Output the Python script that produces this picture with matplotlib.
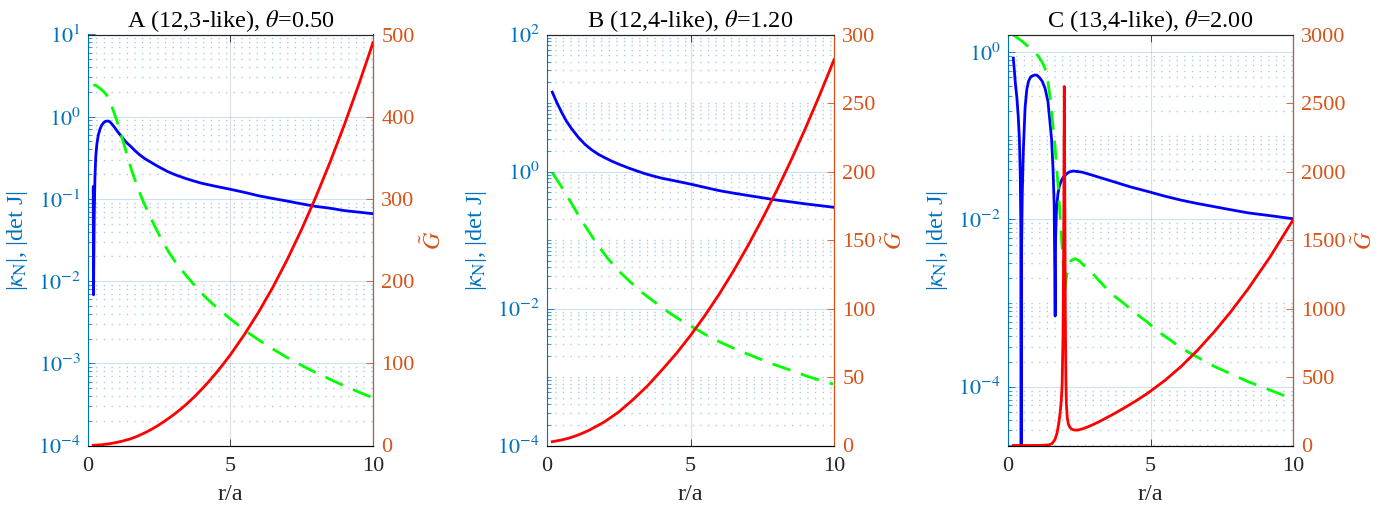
import matplotlib
matplotlib.use("Agg")
import matplotlib.pyplot as plt
from matplotlib.ticker import FixedLocator, NullFormatter, FixedFormatter

plt.rcParams['font.family'] = ['Liberation Serif', 'DejaVu Serif']
plt.rcParams['mathtext.fontset'] = 'stix'

# ---------------- data ----------------
titles = [r'A (12,3-like), $\theta$=0.50', r'B (12,4-like), $\theta$=1.20', r'C (13,4-like), $\theta$=2.00']

# Panel A
A_r_kappa = [0.20, 0.21, 0.235, 0.26, 0.29, 0.33, 0.38, 0.44, 0.50, 0.57, 0.64, 0.71, 0.78, 0.86, 0.95, 1.08, 1.20,
             1.35, 1.50, 1.65, 1.80, 2.00, 2.25, 2.50, 2.83, 3.10, 3.42, 3.70, 4.00, 4.50, 5.00, 5.50, 6.00, 6.50,
             7.00, 7.50, 8.00, 8.50, 9.00, 9.50, 10.0]
A_kappa = [0.14, 0.0068, 0.06, 0.18, 0.33, 0.47, 0.60, 0.71, 0.79, 0.85, 0.88, 0.887, 0.87, 0.81, 0.74, 0.64, 0.57,
           0.49, 0.44, 0.39, 0.35, 0.31, 0.275, 0.245, 0.213, 0.195, 0.178, 0.166, 0.155, 0.142, 0.131, 0.120, 0.109,
           0.101, 0.094, 0.087, 0.081, 0.077, 0.072, 0.069, 0.066]
A_r_detJ = [0.20, 0.30, 0.44, 0.55, 0.67, 0.78, 0.90, 1.05, 1.20, 1.38, 1.55, 1.75, 1.95, 2.20, 2.42, 2.60, 2.83,
            3.10, 3.42, 3.70, 4.00, 4.30, 4.58, 5.00, 5.58, 6.00, 6.51, 7.00, 7.56, 8.00, 8.49, 9.00, 9.50, 10.0]
A_detJ = [2.43, 2.40, 2.21, 2.05, 1.84, 1.55, 1.20, 0.85, 0.57, 0.35, 0.22, 0.14, 0.093, 0.060, 0.042, 0.0316,
          0.023, 0.0166, 0.0121, 0.0093, 0.0071, 0.0056, 0.0046, 0.00348, 0.00242, 0.00192, 0.00148, 0.00117,
          0.00092, 0.00077, 0.00064, 0.00053, 0.000447, 0.00038]
A_r_G = [0.20, 0.50, 0.75, 1.00, 1.25, 1.50, 1.75, 2.00, 2.25, 2.50, 2.75, 3.00, 3.25, 3.50, 3.75, 4.00, 4.25, 4.50,
         4.75, 5.00, 5.50, 6.00, 6.50, 7.00, 7.50, 8.00, 8.50, 9.00, 9.50, 10.0]
A_G = [0.3, 0.9, 2.0, 3.6, 5.6, 8.0, 11.3, 15.3, 19.8, 25, 30.8, 37, 43.8, 51.3, 59.5, 68.4, 77.9, 88, 98.8, 110.2,
       135.2, 162.7, 193, 226.5, 263, 302.5, 345, 390.5, 439, 490]

# Panel B
B_r_kappa = [0.185, 0.35, 0.51, 0.68, 0.86, 1.08, 1.32, 1.55, 1.79, 2.00, 2.25, 2.50, 2.83, 3.10, 3.41, 3.70, 3.99,
             4.50, 5.00, 5.50, 6.00, 6.50, 7.00, 7.50, 8.00, 8.50, 9.00, 9.50, 10.0]
B_kappa = [14.4, 10.0, 7.3, 5.4, 4.2, 3.2, 2.5, 2.08, 1.78, 1.60, 1.42, 1.28, 1.13, 1.03, 0.93, 0.86, 0.80, 0.724,
           0.655, 0.586, 0.526, 0.483, 0.447, 0.414, 0.383, 0.360, 0.337, 0.318, 0.300]
B_r_detJ = [0.185, 0.40, 0.57, 0.85, 1.15, 1.45, 1.73, 2.10, 2.48, 2.90, 3.29, 3.75, 4.22, 4.60, 5.00, 5.68, 6.20,
            6.72, 7.30, 7.88, 8.50, 9.05, 9.50, 9.97]
B_detJ = [0.955, 0.70, 0.54, 0.345, 0.21, 0.134, 0.089, 0.055, 0.036, 0.0245, 0.0174, 0.0124, 0.0089, 0.0070,
          0.0056, 0.0038, 0.0030, 0.0024, 0.00192, 0.00154, 0.00125, 0.00103, 0.00090, 0.00079]
B_r_G = [0.185, 0.50, 0.75, 1.00, 1.25, 1.50, 2.00, 2.50, 3.00, 3.50, 4.00, 4.50, 5.00, 5.50, 6.00, 6.50, 7.00, 7.50,
         8.00, 8.50, 9.00, 9.50, 10.0]
B_G = [2.8, 4.0, 5.3, 7.0, 9.1, 11.5, 17.2, 24.5, 33.5, 43.5, 55, 67, 80.3, 94.8, 110.5, 127.5, 145.8, 165.3, 186,
       208, 231.3, 255.8, 281.5]

# Panel C
C_r_kappa = [0.186, 0.22, 0.26, 0.31, 0.36, 0.40, 0.43, 0.45, 0.46, 0.475, 0.50, 0.54, 0.60, 0.66, 0.72, 0.80, 0.88,
             0.95, 1.02, 1.10, 1.20, 1.30, 1.40, 1.47, 1.53, 1.58, 1.62, 1.655, 1.67, 1.70, 1.75, 1.80, 1.87, 1.94,
             2.05, 2.15, 2.29, 2.60, 2.94, 3.35, 3.75, 4.30, 4.91, 5.50, 6.08, 6.65, 7.25, 7.80, 8.42, 9.20, 10.0]
C_kappa = [0.85, 0.62, 0.42, 0.29, 0.17, 0.09, 0.035, 0.008, 1e-7, 0.004, 0.02, 0.07, 0.22, 0.36, 0.45, 0.51, 0.525,
           0.535, 0.53, 0.50, 0.45, 0.37, 0.26, 0.15, 0.09, 0.04, 0.015, 0.0007, 0.006, 0.013, 0.020, 0.025, 0.029,
           0.032, 0.035, 0.037, 0.038, 0.0368, 0.0340, 0.0308, 0.0280, 0.0245, 0.0216, 0.019, 0.017, 0.0155, 0.0142,
           0.0131, 0.012, 0.0111, 0.0102]
C_r_detJ = [0.186, 0.50, 0.77, 1.06, 1.20, 1.30, 1.40, 1.47, 1.53, 1.59, 1.65, 1.71, 1.77, 1.82, 1.86, 1.90, 1.94,
            1.97, 1.99, 2.01, 2.04, 2.10, 2.20, 2.35, 2.50, 2.70, 2.95, 3.17, 3.45, 3.75, 4.05, 4.34, 4.60, 4.87,
            5.26, 5.70, 6.08, 6.60, 7.25, 7.80, 8.42, 9.20, 10.0]
C_detJ = [1.61, 1.35, 1.12, 0.90, 0.76, 0.64, 0.45, 0.30, 0.19, 0.12, 0.075, 0.04, 0.022, 0.012, 0.0075, 0.0045,
          0.0028, 0.0018, 0.0014, 0.0015, 0.0019, 0.0026, 0.0032, 0.0034, 0.0032, 0.00274, 0.0023, 0.0019, 0.0015,
          0.0012, 0.0010, 0.00083, 0.0007, 0.0006, 0.00046, 0.00036, 0.00029, 0.00023, 0.000174, 0.000143,
          0.000115, 9.1e-5, 7.1e-5]
C_r_G = [0.186, 1.00, 1.30, 1.45, 1.55, 1.65, 1.72, 1.78, 1.83, 1.87, 1.90, 1.93, 1.955, 1.975, 1.99, 2.01, 2.03,
         2.05, 2.08, 2.12, 2.18, 2.25, 2.33, 2.41, 2.50, 2.65, 2.80, 3.00, 3.20, 3.40, 3.75, 4.10, 4.50, 4.91, 5.50,
         6.08, 6.65, 7.25, 7.80, 8.42, 9.20, 10.0]
C_G = [0, 0.3, 2, 5, 15, 45, 90, 160, 240, 330, 450, 800, 1500, 2620, 2000, 1000, 500, 300, 200, 155, 130, 118, 113,
       112, 115, 124, 136, 154, 174, 196, 235, 277, 327, 383, 474, 578, 695, 833, 972, 1142, 1378, 1646]

panels = [
    dict(rk=A_r_kappa, k=A_kappa, rd=A_r_detJ, d=A_detJ, rg=A_r_G, g=A_G,
         ylim=(1e-4, 1e1), majors=[-4, -3, -2, -1, 0, 1], ylim2=(0, 500), ticks2=[0, 100, 200, 300, 400, 500]),
    dict(rk=B_r_kappa, k=B_kappa, rd=B_r_detJ, d=B_detJ, rg=B_r_G, g=B_G,
         ylim=(1e-4, 1e2), majors=[-4, -2, 0, 2], ylim2=(0, 300), ticks2=[0, 50, 100, 150, 200, 250, 300]),
    dict(rk=C_r_kappa, k=C_kappa, rd=C_r_detJ, d=C_detJ, rg=C_r_G, g=C_G,
         ylim=(1.98e-5, 1.63), majors=[-4, -2, 0], ylim2=(0, 3000),
         ticks2=[0, 500, 1000, 1500, 2000, 2500, 3000]),
]

# ---------------- styling ----------------
W, H = 1396, 509
fig = plt.figure(figsize=(W / 100, H / 100), dpi=100)
LEFTC = '#0072BD'
RIGHTC = '#D95319'
AXC = '#262626'
FS = 16
LFS = 17.5
lefts = [87.5, 547, 1008]
widths = [285.5, 287, 285]
top, bottom = 34.5, 445.5
LW = 2.0

for i, p in enumerate(panels):
    ax = fig.add_axes([lefts[i] / W, (H - bottom) / H, widths[i] / W, (bottom - top) / H])
    ax.set_yscale('log')
    ax.set_xlim(0, 10)
    ax.set_ylim(*p['ylim'])
    ax.plot(p['rk'], p['k'], color='#0000FF', lw=LW, zorder=3)
    ax.plot(p['rd'], p['d'], color='#00FF00', lw=LW, dashes=(6.8, 4), zorder=3)

    majors = [10.0 ** e for e in p['majors']]
    minors = []
    for e in range(-6, 3):
        for s in range(1, 10):
            v = s * 10.0 ** e
            if p['ylim'][0] <= v <= p['ylim'][1] and not any(abs(v - m) / m < 1e-9 for m in majors):
                minors.append(v)
    ax.yaxis.set_major_locator(FixedLocator(majors))
    ax.yaxis.set_major_formatter(FixedFormatter([r'$10^{%d}$' % e for e in p['majors']]))
    ax.yaxis.set_minor_locator(FixedLocator(minors))
    ax.yaxis.set_minor_formatter(NullFormatter())
    ax.set_xticks([0, 5, 10])
    ax.set_xticklabels(['0', '5', '10'])

    ax.grid(True, which='major', axis='y', color=LEFTC, alpha=0.2, lw=0.8, ls='-')
    ax.grid(True, which='minor', axis='y', color=LEFTC, alpha=0.35, lw=1.0, ls=(0, (1, 4.5)))
    ax.grid(True, which='major', axis='x', color=AXC, alpha=0.15, lw=0.8)
    ax.set_axisbelow(True)

    ax.tick_params(axis='y', which='both', direction='in', colors=LEFTC, labelsize=FS, pad=5)
    ax.tick_params(axis='y', which='major', length=5, width=0.6)
    ax.tick_params(axis='y', which='minor', length=3, width=0.5)
    ax.tick_params(axis='x', which='both', direction='in', top=True, colors=AXC, labelsize=FS, length=5,
                   width=0.6, pad=8)
    ax.spines['left'].set_color(LEFTC)
    ax.spines['top'].set_color(AXC)
    ax.spines['bottom'].set_color(AXC)
    for s in ax.spines.values():
        s.set_linewidth(0.8)
    ax.set_xlabel('r/a', fontsize=LFS, color=AXC, labelpad=6)
    ax.set_ylabel(r'|$\kappa_{\mathrm{N}}$|, |det J|', fontsize=LFS, color=LEFTC, labelpad=6)
    ax.set_title(titles[i], fontsize=LFS, color='black', pad=5)

    ax2 = ax.twinx()
    ax2.plot(p['rg'], p['g'], color='#FF0000', lw=LW, zorder=3)
    ax2.set_ylim(*p['ylim2'])
    ax2.set_yticks(p['ticks2'])
    ax2.set_yticklabels([str(t) for t in p['ticks2']])
    ax2.tick_params(axis='y', direction='in', colors=RIGHTC, labelsize=FS, length=5, width=0.6, pad=6)
    ax2.spines['right'].set_color(RIGHTC)
    ax2.spines['left'].set_visible(False)
    ax2.spines['top'].set_color(AXC)
    for s in ax2.spines.values():
        s.set_linewidth(0.8)
    ax2.set_ylabel(r'$\tilde{G}$', fontsize=LFS, color=RIGHTC, labelpad=4)

fig.savefig('out.png', dpi=100)
